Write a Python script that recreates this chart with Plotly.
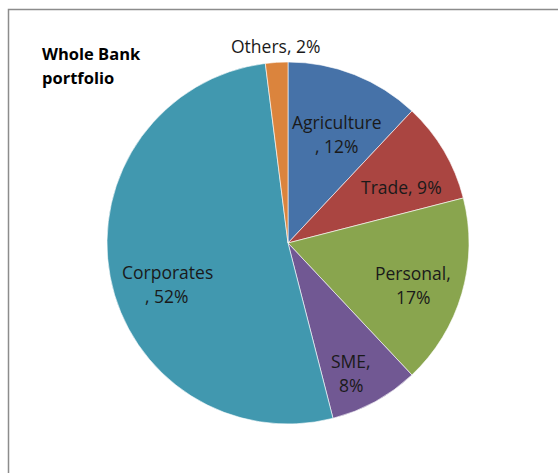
import plotly.graph_objects as go

# Portfolio split by sector (percent of whole bank lending)
sectors = ["Agriculture", "Trade", "Personal", "SME", "Corporates", "Others"]
shares = [12, 9, 17, 8, 52, 2]
colors = ["#4672A8", "#AA4541", "#89A54E", "#715893", "#4198AF", "#DB843D"]

# Label text lines per sector
label_lines = {
    "Agriculture": ["Agriculture", ", 12%"],
    "Trade": ["Trade, 9%"],
    "Personal": ["Personal,", "17%"],
    "SME": ["SME,", "8%"],
    "Corporates": ["Corporates", ", 52%"],
    "Others": ["Others, 2%"],
}
# Label centres in pixels (x, y from top)
label_pos = {
    "Agriculture": (337, 134),
    "Trade": (401, 187),
    "Personal": (413, 285),
    "SME": (351, 373),
    "Corporates": (167, 284),
    "Others": (275, 46),
}

W, H = 558, 473
cx, cy, r = 288, 243, 181

fig = go.Figure(go.Pie(
    labels=sectors,
    values=shares,
    sort=False,
    direction="clockwise",
    rotation=0,
    marker=dict(colors=colors, line=dict(color="rgba(255,255,255,0.6)", width=1)),
    textinfo="none",
    hoverinfo="label+percent",
    showlegend=False,
    domain=dict(x=[(cx - r) / W, (cx + r) / W], y=[1 - (cy + r) / H, 1 - (cy - r) / H]),
))

font = dict(family="Open Sans, Noto Sans, sans-serif", size=17.5, color="#1a1a1a")
line_gap = 24
annotations = []
for name in sectors:
    lines = label_lines[name]
    x, y = label_pos[name]
    top = y - line_gap * (len(lines) - 1) / 2
    for i, t in enumerate(lines):
        annotations.append(dict(
            x=x / W, y=1 - (top + i * line_gap) / H, xref="paper", yref="paper",
            text=t, showarrow=False, font=font, xanchor="center", yanchor="middle",
        ))

# Chart title
for i, t in enumerate(["Whole Bank", "portfolio"]):
    annotations.append(dict(
        x=40 / W, y=1 - (53 + i * 24) / H, xref="paper", yref="paper",
        text=f"<b>{t}</b>", showarrow=False,
        font=dict(family="Open Sans, Noto Sans, sans-serif", size=16.5, color="#000"),
        xanchor="left", yanchor="middle",
    ))

fig.update_layout(
    width=W, height=H,
    margin=dict(l=0, r=0, t=0, b=0),
    paper_bgcolor="white",
    plot_bgcolor="white",
    annotations=annotations,
    shapes=[dict(
        type="rect", xref="paper", yref="paper",
        x0=8.5 / W, x1=1.02, y0=-0.02, y1=1 - 9.5 / H,
        line=dict(color="#8c8c8c", width=1.5), fillcolor="rgba(0,0,0,0)", layer="below",
    )],
)

fig.write_html("out.html")
